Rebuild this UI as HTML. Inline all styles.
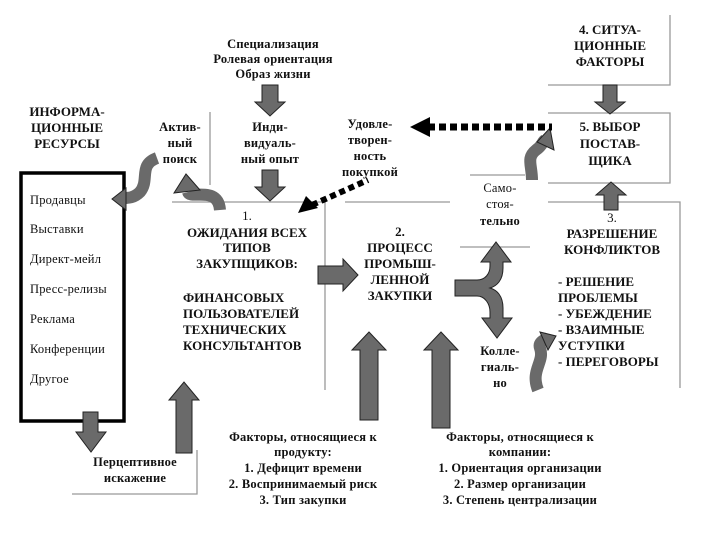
<!DOCTYPE html>
<html><head><meta charset="utf-8"><style>
html,body{margin:0;padding:0;background:#fff}
svg{display:block}
text{font-family:"Liberation Serif",serif;font-weight:bold;fill:#111}
.c{text-anchor:middle}
.t{font-size:13px}
.s{font-size:12.5px;letter-spacing:0.2px}
.a{fill:#6a6a6a;stroke:#222;stroke-width:1}
.l{stroke:#999;stroke-width:1.3;fill:none}
.q{fill:none;stroke:#6a6a6a;stroke-width:12}
</style></head><body>
<svg width="720" height="540" viewBox="0 0 720 540">
<path class="l" d="M172 202H325V390"/>
<path class="l" d="M345 202H450"/>
<path class="l" d="M470 175H525M460 247H530"/>
<path class="l" d="M548 202H680V388"/>
<path class="l" d="M548 85H670V15"/>
<path class="l" d="M548 113H670V183H548"/>
<path class="l" d="M210 112V185"/>
<path class="l" d="M72 494H197V450"/>

<text class="c s" x="273" y="48">Специализация</text>
<text class="c s" x="273" y="63">Ролевая ориентация</text>
<text class="c s" x="273" y="78">Образ жизни</text>

<text class="c t" x="67" y="116">ИНФОРМА-</text>
<text class="c t" x="67" y="132">ЦИОННЫЕ</text>
<text class="c t" x="67" y="148">РЕСУРСЫ</text>

<text class="c s" x="180" y="131">Актив-</text>
<text class="c s" x="180" y="147">ный</text>
<text class="c s" x="180" y="163">поиск</text>

<text class="c s" x="270" y="131">Инди-</text>
<text class="c s" x="270" y="147">видуаль-</text>
<text class="c s" x="270" y="163">ный опыт</text>

<text class="c s" x="370" y="128">Удовле-</text>
<text class="c s" x="370" y="144">творен-</text>
<text class="c s" x="370" y="160">ность</text>
<text class="c s" x="370" y="176">покупкой</text>

<text class="c t" x="610" y="34">4. СИТУА-</text>
<text class="c t" x="610" y="50">ЦИОННЫЕ</text>
<text class="c t" x="610" y="66">ФАКТОРЫ</text>

<text class="c t" x="610" y="131">5. ВЫБОР</text>
<text class="c t" x="610" y="148">ПОСТАВ-</text>
<text class="c t" x="610" y="165">ЩИКА</text>

<rect x="21" y="173" width="103" height="248" fill="none" stroke="#000" stroke-width="3.5"/>
<text class="s" x="30" y="204" style="font-weight:normal">Продавцы</text>
<text class="s" x="30" y="233" style="font-weight:normal">Выставки</text>
<text class="s" x="30" y="263" style="font-weight:normal">Директ-мейл</text>
<text class="s" x="30" y="293" style="font-weight:normal">Пресс-релизы</text>
<text class="s" x="30" y="323" style="font-weight:normal">Реклама</text>
<text class="s" x="30" y="353" style="font-weight:normal">Конференции</text>
<text class="s" x="30" y="383" style="font-weight:normal">Другое</text>

<text class="c t" x="247" y="220" style="font-weight:normal">1.</text>
<text class="c t" x="247" y="237">ОЖИДАНИЯ ВСЕХ</text>
<text class="c t" x="247" y="252">ТИПОВ</text>
<text class="c t" x="247" y="268">ЗАКУПЩИКОВ:</text>
<text class="t" x="183" y="302">ФИНАНСОВЫХ</text>
<text class="t" x="183" y="318">ПОЛЬЗОВАТЕЛЕЙ</text>
<text class="t" x="183" y="334">ТЕХНИЧЕСКИХ</text>
<text class="t" x="183" y="350">КОНСУЛЬТАНТОВ</text>

<text class="c t" x="400" y="236">2.</text>
<text class="c t" x="400" y="252">ПРОЦЕСС</text>
<text class="c t" x="400" y="268">ПРОМЫШ-</text>
<text class="c t" x="400" y="284">ЛЕННОЙ</text>
<text class="c t" x="400" y="300">ЗАКУПКИ</text>

<text class="c s" x="500" y="192" style="font-weight:normal">Само-</text>
<text class="c s" x="500" y="208" style="font-weight:normal">стоя-</text>
<text class="c s" x="500" y="225">тельно</text>

<text class="c s" x="500" y="355">Колле-</text>
<text class="c s" x="500" y="371">гиаль-</text>
<text class="c s" x="500" y="387">но</text>

<text class="c t" x="612" y="222" style="font-weight:normal">3.</text>
<text class="c t" x="612" y="238">РАЗРЕШЕНИЕ</text>
<text class="c t" x="612" y="254">КОНФЛИКТОВ</text>
<text class="t" x="558" y="286">- РЕШЕНИЕ</text>
<text class="t" x="558" y="302">ПРОБЛЕМЫ</text>
<text class="t" x="558" y="318">- УБЕЖДЕНИЕ</text>
<text class="t" x="558" y="334">- ВЗАИМНЫЕ</text>
<text class="t" x="558" y="350">УСТУПКИ</text>
<text class="t" x="558" y="366">- ПЕРЕГОВОРЫ</text>

<text class="c s" x="135" y="466">Перцептивное</text>
<text class="c s" x="135" y="482">искажение</text>

<text class="c s" x="303" y="441">Факторы, относящиеся к</text>
<text class="c s" x="303" y="456">продукту:</text>
<text class="c s" x="303" y="472">1. Дефицит времени</text>
<text class="c s" x="303" y="488">2. Воспринимаемый риск</text>
<text class="c s" x="303" y="504">3. Тип закупки</text>

<text class="c s" x="520" y="441">Факторы, относящиеся к</text>
<text class="c s" x="520" y="456">компании:</text>
<text class="c s" x="520" y="472">1. Ориентация организации</text>
<text class="c s" x="520" y="488">2. Размер организации</text>
<text class="c s" x="520" y="504">3. Степень централизации</text>

<path class="a" d="M262 85H278V102H285L270 116L255 102H262Z"/>
<path class="a" d="M262 170H278V187H285L270 201L255 187H262Z"/>
<path class="a" d="M603 85H617V102H625L610 114L595 102H603Z"/>
<path class="a" d="M604 210H618V195H626L611 182L596 195H604Z"/>
<path class="a" d="M318 266H343V259L358 275L343 291V284H318Z"/>
<path class="a" d="M360 420H378V350H386L369 332L352 350H360Z"/>
<path class="a" d="M432 428H450V350H458L441 332L424 350H432Z"/>
<path class="a" d="M176 453H192V400H199L184 382L169 400H176Z"/>
<path class="a" d="M83 412H98V432H106L91 452L76 432H83Z"/>

<path class="a" d="M455 280H477C485 280 490 274 490 266V262H481L496 242L511 262H503V268C503 280 497 286 490 288C497 290 503 296 503 308V318H512L497 338L482 318H490V312C490 304 485 296 477 296H455Z"/>

<path class="q" d="M220 210C218 185 190 200 188 192"/>
<path class="a" d="M174 193L186 174L200 190Z"/>
<path class="q" d="M157 158C138 165 150 180 140 192C134 198 128 198 124 198"/>
<path class="a" d="M126 188L112 199L126 210Z"/>
<path class="q" d="M538 390C530 370 545 362 540 348C538 342 544 340 548 338"/>
<path class="a" d="M540 332L556 336L548 350Z"/>
<path class="q" d="M532 180C532 165 526 158 536 150C543 145 542 142 545 140"/>
<path class="a" d="M537 142L550 128L554 150Z"/>

<line x1="428" y1="127" x2="552" y2="127" stroke="#000" stroke-width="7" stroke-dasharray="7 4"/>
<path d="M410 127L430 117V137Z" fill="#000"/>
<line x1="312" y1="205" x2="368" y2="180" stroke="#000" stroke-width="6" stroke-dasharray="6 4"/>
<path d="M298 213L306 196L318 208Z" fill="#000"/>
</svg>
</body></html>
